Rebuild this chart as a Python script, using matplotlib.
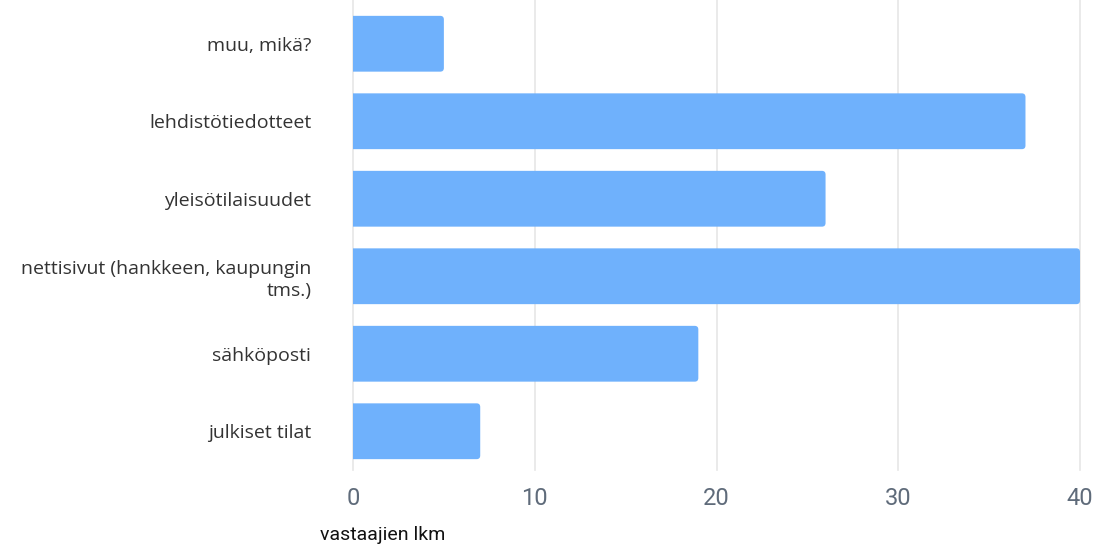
import matplotlib
matplotlib.use("Agg")
import matplotlib.pyplot as plt
from matplotlib.patches import FancyBboxPatch, Rectangle

categories = ["muu, mikä?", "lehdistötiedotteet", "yleisötilaisuudet",
              "nettisivut (hankkeen, kaupungin\ntms.)", "sähköposti", "julkiset tilat"]
values = [5, 37, 26, 40, 19, 7]
xticks = [0, 10, 20, 30, 40]
xlabel = "vastaajien lkm"

BAR_COLOR = "#6fb1fc"
GRID_COLOR = "#e6e6e6"
TICK_COLOR = "#5f6b7a"

fig = plt.figure(figsize=(11.15, 5.46), dpi=100)
ax = fig.add_axes([353 / 1115, 1 - 470 / 546, (1080 - 353) / 1115, 465 / 546])

ax.set_xlim(0, 40)
ax.set_ylim(len(categories) - 0.5, -0.5)

# rounded bars, left edge clipped square at x=0
clip = Rectangle((0, -1), 45, len(categories) + 2, transform=ax.transData)
h = 0.72
for i, v in enumerate(values):
    p = FancyBboxPatch((-0.5, i - h / 2), v + 0.5, h,
                       boxstyle="round,pad=0,rounding_size=0.2",
                       mutation_aspect=0.235, facecolor=BAR_COLOR,
                       edgecolor="none", zorder=3)
    ax.add_patch(p)
    p.set_clip_box(None)
    p.set_clip_path(clip)

for x in xticks:
    ax.axvline(x, color=GRID_COLOR, lw=1.2, zorder=1, ymin=0, ymax=1.01, clip_on=False)

for s in ax.spines.values():
    s.set_visible(False)

ax.set_yticks(range(len(categories)))
ax.set_yticklabels(categories, fontfamily="Open Sans", fontsize=14, color="#333333",
                   linespacing=1.3)
ax.tick_params(axis="y", length=0, pad=30)
ax.set_xticks(xticks)
ax.set_xticklabels([str(x) for x in xticks], fontfamily="Roboto", fontsize=17,
                   color=TICK_COLOR)
ax.tick_params(axis="x", length=0, pad=12)

fig.text(320 / 1115, 1 - 535 / 546, xlabel, fontfamily="Roboto", fontsize=14,
         color="#111111", ha="left", va="center")

fig.savefig("out.png", dpi=100)
